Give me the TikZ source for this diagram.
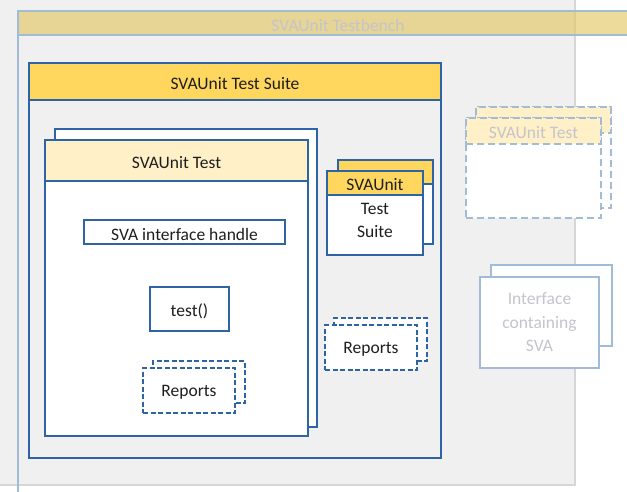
\documentclass[tikz,border=0pt]{standalone}
\usepackage{fontspec}
\setmainfont{Carlito}
\definecolor{bgray}{HTML}{F0F0F0}
\definecolor{lgray}{HTML}{D6D6D6}
\definecolor{sblue}{HTML}{2E64A6}
\definecolor{fblue}{HTML}{A2BCD8}
\definecolor{gold}{HTML}{FFD75E}
\definecolor{cream}{HTML}{FFF0C8}
\definecolor{tan}{HTML}{E2C765}
\definecolor{ftext}{HTML}{C4C4CC}
\definecolor{dtext}{HTML}{1E1E1E}
\newcommand\bx[7]{\node[anchor=north west, inner sep=0pt, outer sep=0pt, minimum width=#4pt, minimum height=#5pt, #6] (#1) at (#2,#3) {#7};}
\newcommand\lw[1]{\raisebox{-2pt}[\height][\depth]{#1}}
\tikzset{
  sb/.style={draw=sblue, line width=1.4pt},
  fb/.style={draw=fblue, line width=1.3pt},
  dsb/.style={draw=sblue, line width=1.3pt, dash pattern=on 5pt off 2.5pt},
  dfb/.style={draw=fblue, line width=1.4pt, dash pattern=on 7pt off 4pt},
  txt/.style={text=dtext, font=\fontsize{17.5}{23}\selectfont, align=center},
  ftxt/.style={text=ftext, font=\fontsize{17.5}{23.5}\selectfont, align=center},
}
\begin{document}
\begin{tikzpicture}[x=1pt, y=-1pt]
\useasboundingbox (0,0) rectangle (627,491);
% background
\bx{bg}{-3}{-3}{578}{488}{fill=bgray, draw=lgray, line width=1.5pt}{}
% testbench
\coordinate (tbtop) at (18,11);
\coordinate (tbbot) at (18,495);
\draw[fb, line width=1.2pt] (tbtop) -- (tbbot);
\bx{tbh}{18}{11}{640}{24}{fill=tan, fill opacity=0.65, draw=fblue, line width=1.2pt, ftxt, text opacity=1}{\lw{SVAUnit Testbench}}
% suite
\bx{suite}{29}{63}{412}{395}{sb, fill=bgray}{}
\bx{suiteh}{29}{63}{412}{37}{sb, fill=gold, txt}{\lw{SVAUnit Test Suite}}
% SVAUnit test
\bx{testb}{55}{129}{262}{298}{sb, fill=white}{}
\bx{testf}{45}{140}{263}{296}{sb, fill=white}{}
\bx{testh}{45}{140}{263}{41}{sb, fill=cream, txt}{\lw{SVAUnit Test}}
\bx{handle}{84}{220}{201}{24}{sb, fill=white, txt}{\lw{SVA interface handle}}
\bx{testfn}{150}{287}{79}{44}{sb, fill=white, txt}{\lw{test()}}
\bx{rep1b}{153}{361}{92}{42}{dsb, fill=white}{}
\bx{rep1f}{143}{368}{92}{45}{dsb, fill=white, txt}{\lw{Reports}}
% small suite
\bx{ssb}{338}{160}{95}{84}{sb, fill=white}{}
\bx{ssbh}{338}{160}{95}{24}{sb, fill=gold}{}
\bx{ssf}{327}{171}{96}{84}{sb, fill=white}{}
\bx{ssfh}{327}{171}{96}{24}{sb, fill=gold, txt}{\lw{SVAUnit}}
\node[txt, anchor=north, inner sep=0pt] (sstxt) at (375,203) {Test\\Suite};
% reports right
\bx{rep2b}{334}{318}{93}{43}{dsb, fill=white}{}
\bx{rep2f}{325}{325}{92}{45}{dsb, fill=white, txt}{\lw{Reports}}
% faded SVAUnit test
\bx{ftb}{476}{107}{135}{101}{dfb, fill=white}{}
\bx{ftbh}{476}{107}{135}{26}{dfb, fill=cream}{}
\bx{ftf}{466}{118}{135}{100}{dfb, fill=white}{}
\bx{ftfh}{466}{118}{135}{26}{dfb, fill=cream, ftxt}{\lw{SVAUnit Test}}
% interface
\bx{ifb}{491}{265}{121}{81}{fb, fill=white}{}
\bx{iff}{480}{277}{119}{91}{fb, fill=white, ftxt}{Interface\\containing\\SVA}
\end{tikzpicture}
\end{document}
